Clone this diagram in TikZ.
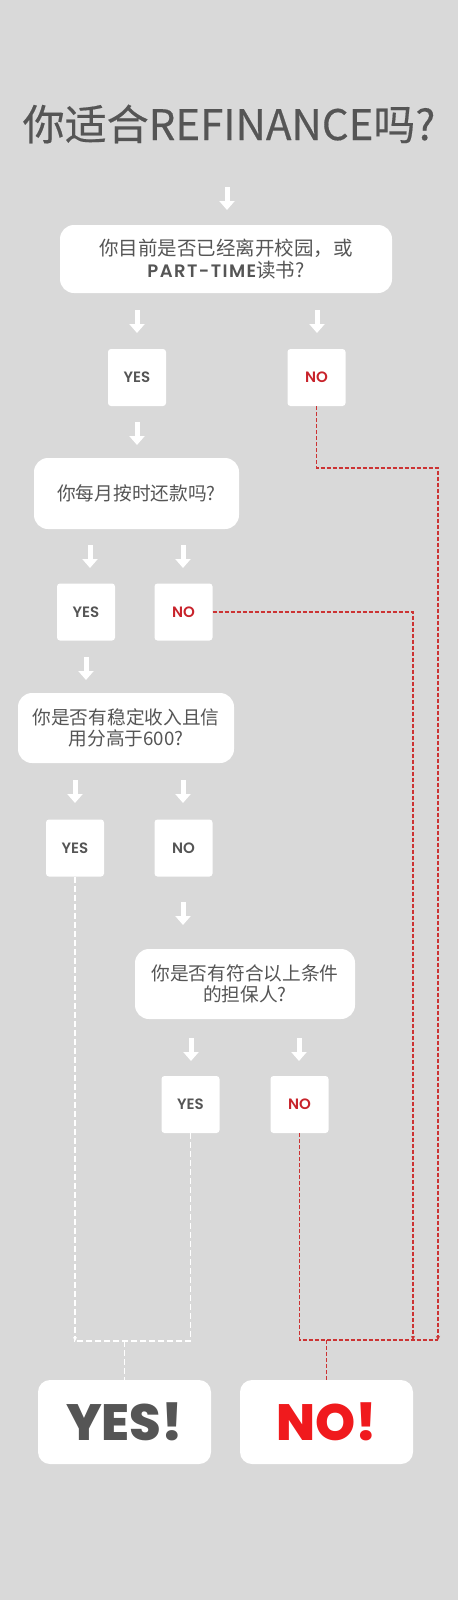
\documentclass[tikz,border=0pt]{standalone}
\usepackage{fontspec}
\setmainfont{Noto Sans CJK SC}
\newfontfamily\cjk{Noto Sans CJK SC}
\newfontfamily\popsb{Poppins SemiBold}
\newfontfamily\popxb{Poppins ExtraBold}
\usetikzlibrary{arrows.meta}
\definecolor{bg}{HTML}{D9D9D9}
\definecolor{txt}{HTML}{555555}
\definecolor{redno}{HTML}{C8232B}
\definecolor{redbig}{HTML}{F01A1D}
\definecolor{redline}{HTML}{CC3333}
\tikzset{
  qbox/.style={fill=white, rounded corners=14pt, text=txt, align=center, inner sep=0pt},
  ynbox/.style={fill=white, rounded corners=3pt, minimum width=58pt, minimum height=57pt, inner sep=0pt, font=\popsb\fontsize{15}{18}\selectfont},
  finbox/.style={fill=white, rounded corners=12pt, minimum width=173pt, minimum height=84pt, inner sep=0pt, font=\popxb\fontsize{51}{56}\selectfont},
  warrow/.style={white, line width=5pt, -{Triangle[width=15pt,length=9pt]}},
  rdash/.style={redline, line width=1.1pt, dash pattern=on 4pt off 2pt},
  wdash/.style={white, line width=1.1pt, dash pattern=on 6pt off 3pt},
  stip/.style={-{Stealth[length=4pt,width=4pt]}}
}
\begin{document}
\begin{tikzpicture}[x=1pt,y=-1pt]
\fill[bg] (0,0) rectangle (458,1600);
\useasboundingbox (0,0) rectangle (458,1600);

\node[text=txt, font=\cjk\fontsize{42}{48}\selectfont\addfontfeature{FakeBold=0.4}] (title) at (229,124) {你适合REFINANCE吗?};

% question boxes
\node[qbox, minimum width=332pt, minimum height=68pt, font=\cjk\fontsize{19.5}{23}\selectfont] (q1) at (226,259)
  {你目前是否已经离开校园，或\\[-1pt]{\popsb\fontsize{18}{23}\selectfont\addfontfeature{LetterSpace=8}PART-TIME}读书?};
\node[qbox, minimum width=205pt, minimum height=71pt, font=\cjk\fontsize{18.7}{22}\selectfont] (q2) at (136.5,493.5) {你每月按时还款吗?};
\node[qbox, minimum width=216pt, minimum height=70pt, font=\cjk\fontsize{18.7}{21}\selectfont] (q3) at (126,728) {你是否有稳定收入且信\\用分高于600?};
\node[qbox, minimum width=220pt, minimum height=70pt, font=\cjk\fontsize{18.7}{21}\selectfont] (q4) at (245,984) {你是否有符合以上条件\\的担保人?};

% yes/no boxes
\node[ynbox, text=txt] (y1) at (137,377.5) {YES};
\node[ynbox, text=redno] (n1) at (316.5,377.5) {NO};
\node[ynbox, text=txt] (y2) at (86,612) {YES};
\node[ynbox, text=redno] (n2) at (183.5,612) {NO};
\node[ynbox, text=txt] (y3) at (75,848) {YES};
\node[ynbox, text=txt] (n3) at (183.5,848) {NO};
\node[ynbox, text=txt] (y4) at (190.5,1104.5) {YES};
\node[ynbox, text=redno] (n4) at (299.5,1104.5) {NO};

% final boxes
\node[finbox, text=txt] (yf) at (124.5,1422) {YES!};
\node[finbox, text=redbig] (nf) at (326.5,1422) {NO!};

% white arrows
\foreach \i/\x/\ya/\yb in {0/227/187/210, 1/137/310/333, 2/317/310/333, 3/137/422/445,
  4/90/545/568, 5/183/545/568, 6/86/657/680, 7/75/780/803, 8/183/780/803,
  9/183/902/925, 10/191/1038/1061, 11/299/1038/1061}{
  \coordinate (as\i) at (\x,\ya);
  \coordinate (ae\i) at (\x,\yb);
  \draw[warrow] (as\i) -- (ae\i);
}

% join coordinates
\coordinate (r1) at (438,468);
\coordinate (rb) at (438,1340);
\coordinate (rb2) at (413,1340);
\coordinate (wb) at (74,1341);

% red dashed connectors
\draw[rdash, stip] (n1.south) |- (r1) -- (rb);
\draw[rdash, stip] (n2.east) -| (rb2);
\draw[rdash] (n4.south) |- (rb);
\draw[rdash] (nf.north |- rb) -- (nf.north);

% white dashed connectors
\draw[wdash, stip] (y3.south) -- (y3.south |- wb);
\draw[wdash] (y4.south) |- (wb);
\draw[wdash] (yf.north |- wb) -- (yf.north);
\end{tikzpicture}
\end{document}
